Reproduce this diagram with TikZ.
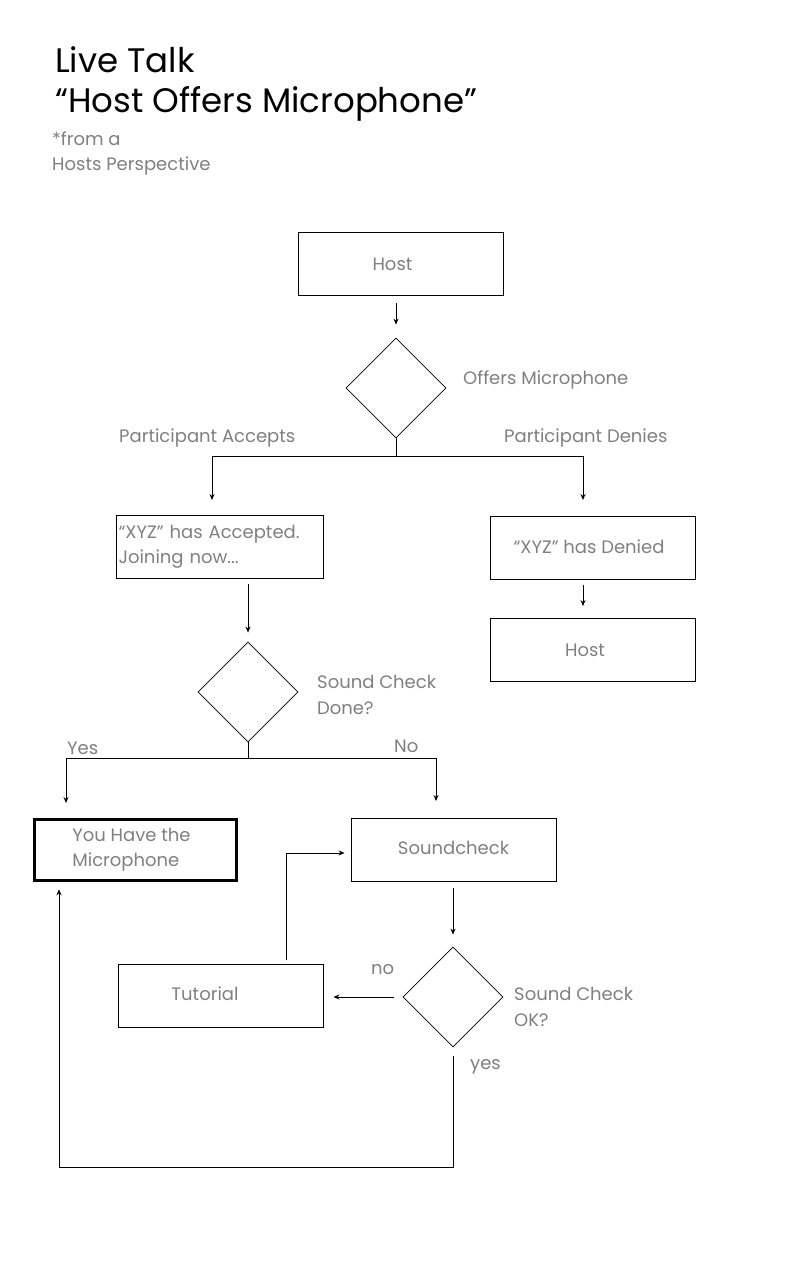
\documentclass[tikz,border=0pt]{standalone}
\usepackage{fontspec}
\setmainfont{Poppins}
\usetikzlibrary{shapes.geometric,arrows.meta}
\definecolor{labelgray}{HTML}{808080}
\tikzset{
  arr/.style={draw=black,line width=0.9pt,-{Stealth[length=6pt,width=5pt]}},
  ln/.style={draw=black,line width=0.9pt},
  stepbox/.style={draw=black,line width=0.9pt,minimum width=205pt,minimum height=63pt,inner sep=0pt,
    text=labelgray,font=\fontsize{18}{25}\selectfont},
  decide/.style={draw=black,line width=0.8pt,diamond,minimum width=100pt,minimum height=100pt,inner sep=0pt},
  lbl/.style={text=labelgray,font=\fontsize{18}{26}\selectfont,inner sep=0pt,align=left},
}
\begin{document}
\begin{tikzpicture}[x=1pt,y=-1pt]
\useasboundingbox (0,0) rectangle (800,1280);
\fill[white] (0,0) rectangle (800,1280);

% heading
\node[anchor=base west,inner sep=0pt,font=\fontsize{34}{40}\selectfont] (t1) at (55,72) {Live Talk};
\node[anchor=base west,inner sep=0pt,font=\fontsize{34}{40}\selectfont] (t2) at (55,112) {“Host Offers Microphone”};
\node[anchor=base west,lbl] (t3) at (52,145) {*from a};
\node[anchor=base west,lbl] (t4) at (52,170) {Hosts Perspective};

% boxes
\node[stepbox] (host) at (400.5,264) {\hspace*{-16pt}Host};
\node[stepbox,align=left,text width=203pt,inner xsep=2pt] (acc) at (220,547) {\raisebox{-3pt}{“XYZ” has Accepted.}\\\raisebox{-3pt}{Joining now...}};
\node[stepbox] (den) at (593,547.5) {\hspace*{-8pt}\raisebox{2pt}{“XYZ” has Denied}};
\node[stepbox] (host2) at (593,650) {\hspace*{-16pt}Host};
\node[stepbox,line width=3.5pt,minimum width=202pt,minimum height=61pt,align=left] (mic) at (135.5,850) {\hspace*{-8pt}\raisebox{-2pt}{You Have the}\\\hspace*{-8pt}\raisebox{-2pt}{Microphone}};
\node[stepbox] (snd) at (453.5,849.5) {\raisebox{4pt}{Soundcheck}};
\node[stepbox] (tut) at (220.5,996) {\hspace*{-31pt}\raisebox{4pt}{Tutorial}};

% decisions
\node[decide] (d1) at (396,388) {};
\node[decide] (d2) at (248,692) {};
\node[decide] (d3) at (453,997) {};

% labels
\node[lbl,anchor=west] (l1) at (463,380) {Offers Microphone};
\node[lbl,anchor=west] (l2) at (119,438) {Participant Accepts};
\node[lbl,anchor=west] (l3) at (504,438) {Participant Denies};
\node[lbl,anchor=west] (l4) at (317,695) {Sound Check\\Done?};
\node[lbl,anchor=west] (l5) at (67,748) {Yes};
\node[lbl,anchor=west] (l6) at (394,746) {No};
\node[lbl,anchor=west] (l7) at (514,1007) {Sound Check\\OK?};
\node[lbl,anchor=west] (l8) at (371,970) {no};
\node[lbl,anchor=west] (l9) at (470,1067) {yes};

% connectors
\coordinate (s1) at (396,456);
\coordinate (s2) at (248,758);
\draw[arr] ([yshift=-7pt]host.south -| d1) -- ([yshift=13pt]d1.north);
\draw[ln] (d1.south) -- (s1);
\draw[ln] (s1 -| 212,0) -- (s1 -| 583,0);
\draw[arr] (s1 -| 212,0) -- (212,500);
\draw[arr] (s1 -| 583,0) -- (583,500);
\draw[arr] (583,585) -- ([yshift=12pt]host2.north -| 583,0);
\draw[arr] ([yshift=-5pt]acc.south -| d2) -- ([yshift=9pt]d2.north);
\draw[ln] (d2.south) -- (s2);
\draw[ln] (s2 -| 66,0) -- (s2 -| 436,0);
\draw[arr] (s2 -| 66,0) -- (66,803);
\draw[arr] (s2 -| 436,0) -- (436,801);
\draw[arr] ([yshift=-7pt]snd.south -| d3) -- ([yshift=12pt]d3.north);
\draw[arr] ([xshift=-9pt]d3.west) -- ([xshift=10pt]tut.east |- d3.west);
\draw[arr] ([yshift=4pt]tut.north -| 286,0) |- ([xshift=-6pt]snd.west |- 0,853);
\draw[arr] ([yshift=-9pt]d3.south) |- (59,1167) -- ([yshift=-7pt]mic.south -| 59,0);
\end{tikzpicture}
\end{document}
